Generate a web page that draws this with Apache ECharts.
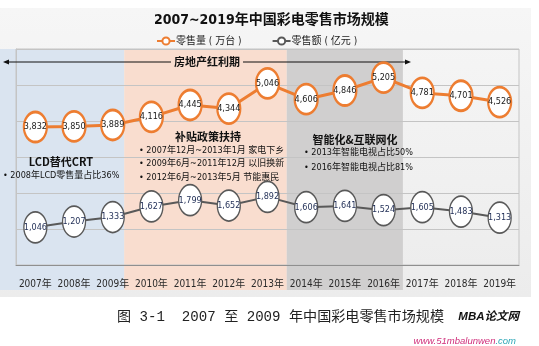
<!DOCTYPE html>
<html>
<head>
<meta charset="utf-8">
<script src="https://cdn.jsdelivr.net/npm/echarts@6/dist/echarts.min.js"></script>
<style>
  html, body { margin: 0; padding: 0; background: #ffffff; }
  #chart { width: 539px; height: 346px; }
</style>
</head>
<body>
<div id="chart"></div>
<script>
// Years on the category axis
const years = ['2007年', '2008年', '2009年', '2010年', '2011年', '2012年', '2013年',
               '2014年', '2015年', '2016年', '2017年', '2018年', '2019年'];
// Retail volume (10k units)
const salesVolume = [3832, 3850, 3889, 4116, 4445, 4344, 5046, 4606, 4846, 5205, 4781, 4701, 4526];
// Retail value (100M yuan)
const salesValue = [1046, 1207, 1333, 1627, 1799, 1652, 1892, 1606, 1641, 1524, 1605, 1483, 1313];
// Shared value scale
const yMin = 0, yMax = 6000, yStep = 1000;
// Period shading, in category units along the band axis
const periodStart = [-0.41, 2.8, 7.0];
const periodEnd = [2.8, 7.0, 10.0];
const periodColor = ['#dae4f0', '#f9ddcf', '#d0cfcf'];

// Use a condensed face when one is installed
function pickFace(candidates, fallback) {
  const ctx = document.createElement('canvas').getContext('2d');
  const probe = '2007年1,234 mmWWii';
  for (const face of candidates) {
    for (const base of ['monospace', 'serif']) {
      ctx.font = '20px ' + base;
      const w0 = ctx.measureText(probe).width;
      ctx.font = '20px "' + face + '", ' + base;
      const w1 = ctx.measureText(probe).width;
      if (Math.abs(w0 - w1) > 0.5) return face;
    }
  }
  return fallback;
}
const narrowFace = pickFace(['Liberation Sans Narrow', 'DejaVu Sans Condensed', 'Roboto Condensed',
                             'Open Sans Condensed', 'Noto Sans Condensed'], 'Liberation Sans');
const NARROW = '"' + narrowFace + '", "Noto Sans CJK SC", sans-serif';
const CJK = '"Noto Sans CJK SC", "Liberation Sans", sans-serif';

const fmt = v => Number(v).toLocaleString('en-US');

const chart = echarts.init(document.getElementById('chart'), null, { renderer: 'canvas' });

chart.setOption({
  animation: false,
  backgroundColor: '#ffffff',
  title: {
    text: '2007~2019年中国彩电零售市场规模',
    left: 149, top: 8,
    textStyle: { fontFamily: NARROW, fontSize: 14, fontWeight: 'bold', color: '#111' }
  },
  legend: {
    left: 151, top: 31,
    itemWidth: 18, itemHeight: 9, itemGap: 30,
    textStyle: { fontFamily: NARROW, fontSize: 10, color: '#222', padding: [0, 0, 0, -4] },
    data: ['零售量 ( 万台 )', '零售额 ( 亿元 )']
  },
  grid: [
    { left: 16, right: 20, top: 49, bottom: 81, show: true, borderColor: '#c4c4c4', borderWidth: 1,
      backgroundColor: 'transparent', z: 3 },
    { left: 0, right: 20, top: 49, bottom: 56, show: false }
  ],
  xAxis: [
    {
      type: 'category', gridIndex: 0, data: years, boundaryGap: true, z: 3,
      axisLine: { show: true, lineStyle: { color: '#8f8f8f', width: 1 } },
      axisTick: { show: false },
      axisLabel: { interval: 0, margin: 14, fontFamily: NARROW, fontSize: 10, color: '#2a2a2a' }
    },
    { type: 'value', gridIndex: 1, min: periodStart[0], max: years.length, show: false }
  ],
  yAxis: [
    {
      type: 'value', gridIndex: 0, min: yMin, max: yMax, interval: yStep, z: 3,
      axisLabel: { show: false }, axisTick: { show: false },
      axisLine: { show: true, lineStyle: { color: '#c4c4c4' } },
      splitLine: { show: true, lineStyle: { color: '#c4c4c4', width: 1 } }
    },
    { type: 'value', gridIndex: 1, min: 0, max: 1, show: false }
  ],
  series: [
    {
      // period shading behind the plot
      type: 'custom', xAxisIndex: 1, yAxisIndex: 1, z: 1, silent: true,
      data: periodStart.map((s, i) => [s, periodEnd[i], i]),
      renderItem: (params, api) => {
        const p0 = api.coord([api.value(0), 1]);
        const p1 = api.coord([api.value(1), 0]);
        return {
          type: 'rect',
          shape: { x: p0[0], y: p0[1], width: p1[0] - p0[0], height: p1[1] - p0[1] },
          style: { fill: periodColor[api.value(2)] }
        };
      }
    },
    {
      name: '零售量 ( 万台 )', type: 'line', data: salesVolume,
      symbol: 'circle', symbolSize: [23, 30], showAllSymbol: true,
      lineStyle: { color: '#ed7d31', width: 3 },
      itemStyle: { color: '#ffffff', borderColor: '#ed7d31', borderWidth: 2.5 },
      label: { show: true, position: 'inside', formatter: p => fmt(p.value),
               fontFamily: NARROW, fontSize: 9, color: '#1a1a1a' },
      labelLayout: { hideOverlap: false },
      z: 6
    },
    {
      name: '零售额 ( 亿元 )', type: 'line', data: salesValue,
      symbol: 'circle', symbolSize: [23, 31], showAllSymbol: true,
      lineStyle: { color: '#595959', width: 2 },
      itemStyle: { color: '#ffffff', borderColor: '#595959', borderWidth: 1.5 },
      label: { show: true, position: 'inside', formatter: p => fmt(p.value),
               fontFamily: NARROW, fontSize: 9, color: '#1f2d55' },
      labelLayout: { hideOverlap: false },
      z: 5
    }
  ],
  graphic: [
    { type: 'rect', z: -10, silent: true,
      shape: { x: 0, y: 8, width: 531, height: 289 },
      style: { fill: new echarts.graphic.LinearGradient(0, 0, 0, 1, [
        { offset: 0, color: '#f6f6f6' }, { offset: 1, color: '#ececec' }]) } },
    // period arrow
    { type: 'line', z: 5, shape: { x1: 8, y1: 62, x2: 171, y2: 62 }, style: { stroke: '#111', lineWidth: 1.2 } },
    { type: 'line', z: 5, shape: { x1: 243, y1: 62, x2: 406, y2: 62 }, style: { stroke: '#111', lineWidth: 1.2 } },
    { type: 'polygon', z: 5, shape: { points: [[3, 62], [9, 59.5], [9, 64.5]] }, style: { fill: '#111' } },
    { type: 'polygon', z: 5, shape: { points: [[411, 62], [405, 59.5], [405, 64.5]] }, style: { fill: '#111' } },
    { type: 'text', z: 5, style: { text: '房地产红利期', x: 207, y: 62, textAlign: 'center', textVerticalAlign: 'middle',
      font: 'bold 11px ' + CJK, fill: '#111' } },
    // annotations
    { type: 'text', z: 5, style: { text: 'LCD替代CRT', x: 61, y: 162, textAlign: 'center', textVerticalAlign: 'middle',
      font: 'bold 11px ' + CJK, fill: '#111' } },
    { type: 'text', z: 5, style: { text: '• 2008年LCD零售量占比36%', x: 3, y: 176, textAlign: 'left', textVerticalAlign: 'middle',
      font: '9px ' + NARROW, fill: '#111' } },
    { type: 'text', z: 5, style: { text: '补贴政策扶持', x: 208, y: 137, textAlign: 'center', textVerticalAlign: 'middle',
      font: 'bold 11px ' + CJK, fill: '#111' } },
    { type: 'text', z: 5, style: { text: '• 2007年12月~2013年1月 家电下乡', x: 139, y: 151, textAlign: 'left', textVerticalAlign: 'middle',
      font: '9px ' + NARROW, fill: '#111' } },
    { type: 'text', z: 5, style: { text: '• 2009年6月~2011年12月 以旧换新', x: 139, y: 164, textAlign: 'left', textVerticalAlign: 'middle',
      font: '9px ' + NARROW, fill: '#111' } },
    { type: 'text', z: 5, style: { text: '• 2012年6月~2013年5月 节能惠民', x: 139, y: 177.5, textAlign: 'left', textVerticalAlign: 'middle',
      font: '9px ' + NARROW, fill: '#111' } },
    { type: 'text', z: 5, style: { text: '智能化&互联网化', x: 355, y: 140, textAlign: 'center', textVerticalAlign: 'middle',
      font: 'bold 11px ' + CJK, fill: '#111' } },
    { type: 'text', z: 5, style: { text: '• 2013年智能电视占比50%', x: 304, y: 152.5, textAlign: 'left', textVerticalAlign: 'middle',
      font: '9px ' + NARROW, fill: '#111' } },
    { type: 'text', z: 5, style: { text: '• 2016年智能电视占比81%', x: 304, y: 167.5, textAlign: 'left', textVerticalAlign: 'middle',
      font: '9px ' + NARROW, fill: '#111' } },
    // caption
    { type: 'text', z: 5, style: { text: '图 3-1  2007 至 2009 年中国彩电零售市场规模', x: 117, y: 317, textAlign: 'left', textVerticalAlign: 'middle',
      font: '14.1px "Liberation Mono", "Noto Sans CJK SC", monospace', fill: '#222' } },
    { type: 'text', z: 5, style: { text: 'MBA论文网', x: 519, y: 317, textAlign: 'right', textVerticalAlign: 'middle',
      font: 'italic bold 11.5px "Liberation Sans", "Noto Sans CJK SC", sans-serif', fill: '#111' } },
    { type: 'text', z: 5, style: {
      text: '{a|www.51mbalunwen}{b|.com}', x: 516, y: 341, textAlign: 'right', textVerticalAlign: 'middle',
      rich: {
        a: { fontFamily: 'Liberation Sans', fontStyle: 'italic', fontSize: 9.5, fill: '#d0307c' },
        b: { fontFamily: 'Liberation Sans', fontStyle: 'italic', fontSize: 9.5, fill: '#2fa8b8' }
      } } }
  ]
});
</script>
</body>
</html>
